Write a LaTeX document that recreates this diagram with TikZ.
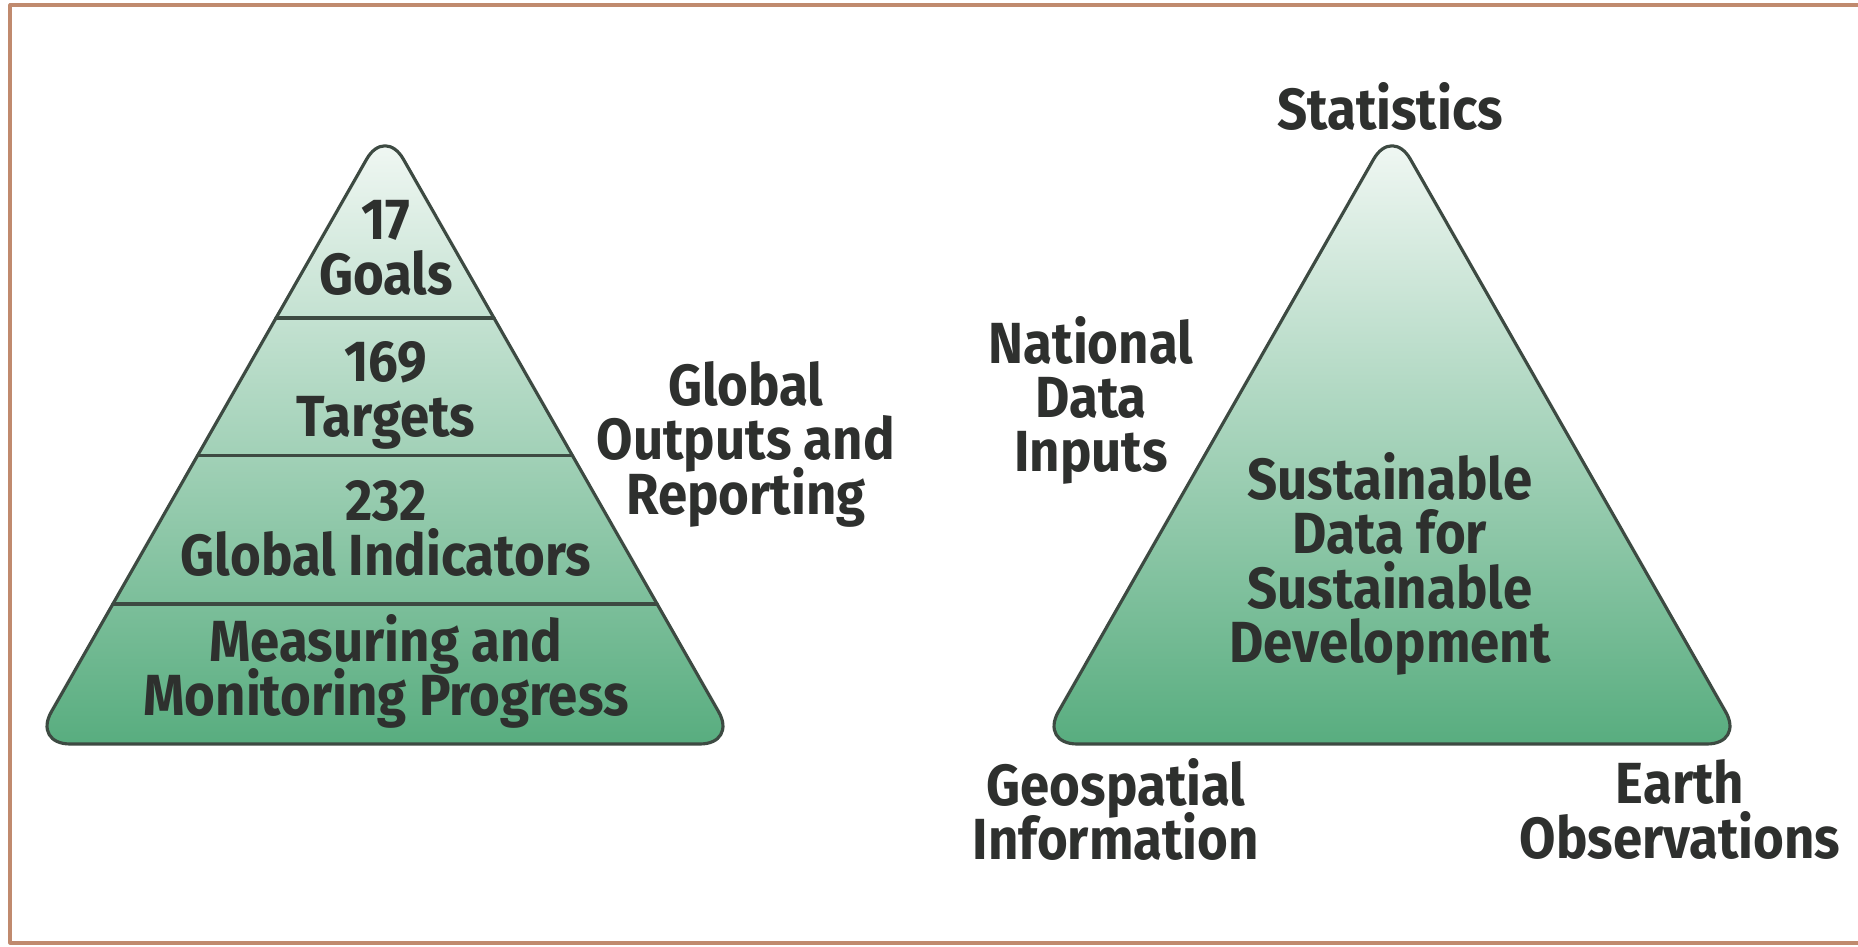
\documentclass[tikz,border=0pt]{standalone}
\usepackage{fontspec}
\setmainfont[FakeStretch=0.91]{Fira Sans}
\usetikzlibrary{calc}
\definecolor{pyrline}{HTML}{3D4A42}
\definecolor{pyrtop}{HTML}{F4F9F6}
\definecolor{pyrbot}{HTML}{58AD7F}
\definecolor{txtgray}{HTML}{2E302E}
\definecolor{frame}{HTML}{C08A6E}
\newcommand\lblfont{\bfseries\fontsize{16.5}{15.5}\selectfont\lineskiplimit=-20pt\relax}
\begin{document}
\begin{tikzpicture}[line cap=round,line join=round,x=1.0cm,y=1.0cm,
    lbl/.style={align=center, text=txtgray, inner sep=0pt, text depth=0pt,
      font=\lblfont},
    pyr/.style={draw=pyrline, line width=0.9pt, rounded corners=0.37cm,
      top color=pyrtop, bottom color=pyrbot}]
  \useasboundingbox (0,0) rectangle (18.58,9.47);
  % frame
  \draw [frame, line width=0.9pt, line cap=butt] (18.58,9.42) -- (0.10,9.42) -- (0.10,0.04) -- (18.58,0.04);
  % left pyramid
  \coordinate (lA) at (3.85,8.20);
  \coordinate (lL) at (0.33,2.03);
  \coordinate (lR) at (7.37,2.03);
  \path [pyr] (lA) -- (lR) -- (lL) -- cycle;
  \foreach \t in {0.3096,0.533,0.773}
    \draw [pyrline, line width=0.9pt] ($(lA)!\t!(lL)$) -- ($(lA)!\t!(lR)$);
  \node [lbl] (goals) at (3.86,6.995) {17\\Goals};
  \node [lbl] (targets) at (3.86,5.58) {169\\Targets};
  \node [lbl] (indic) at (3.86,4.19) {232\\Global Indicators};
  \node [lbl] (measure) at (3.86,2.82) {Measuring and\\Monitoring Progress};
  \node [lbl] (outputs) at (7.46,5.09) {Global\\Outputs and\\Reporting};
  % right pyramid
  \coordinate (rA) at (13.92,8.20);
  \coordinate (rL) at (10.40,2.03);
  \coordinate (rR) at (17.44,2.03);
  \path [pyr] (rA) -- (rR) -- (rL) -- cycle;
  \node [lbl] (stats) at (13.90,8.41) {Statistics};
  \node [lbl] (national) at (10.91,5.53) {National\\Data\\Inputs};
  \node [lbl] (sdsd) at (13.90,3.895) {Sustainable\\Data for\\Sustainable\\Development};
  \node [lbl] (geo) at (11.16,1.38) {Geospatial\\Information};
  \node [lbl] (earth) at (16.80,1.38) {Earth\\Observations};
\end{tikzpicture}
\end{document}
